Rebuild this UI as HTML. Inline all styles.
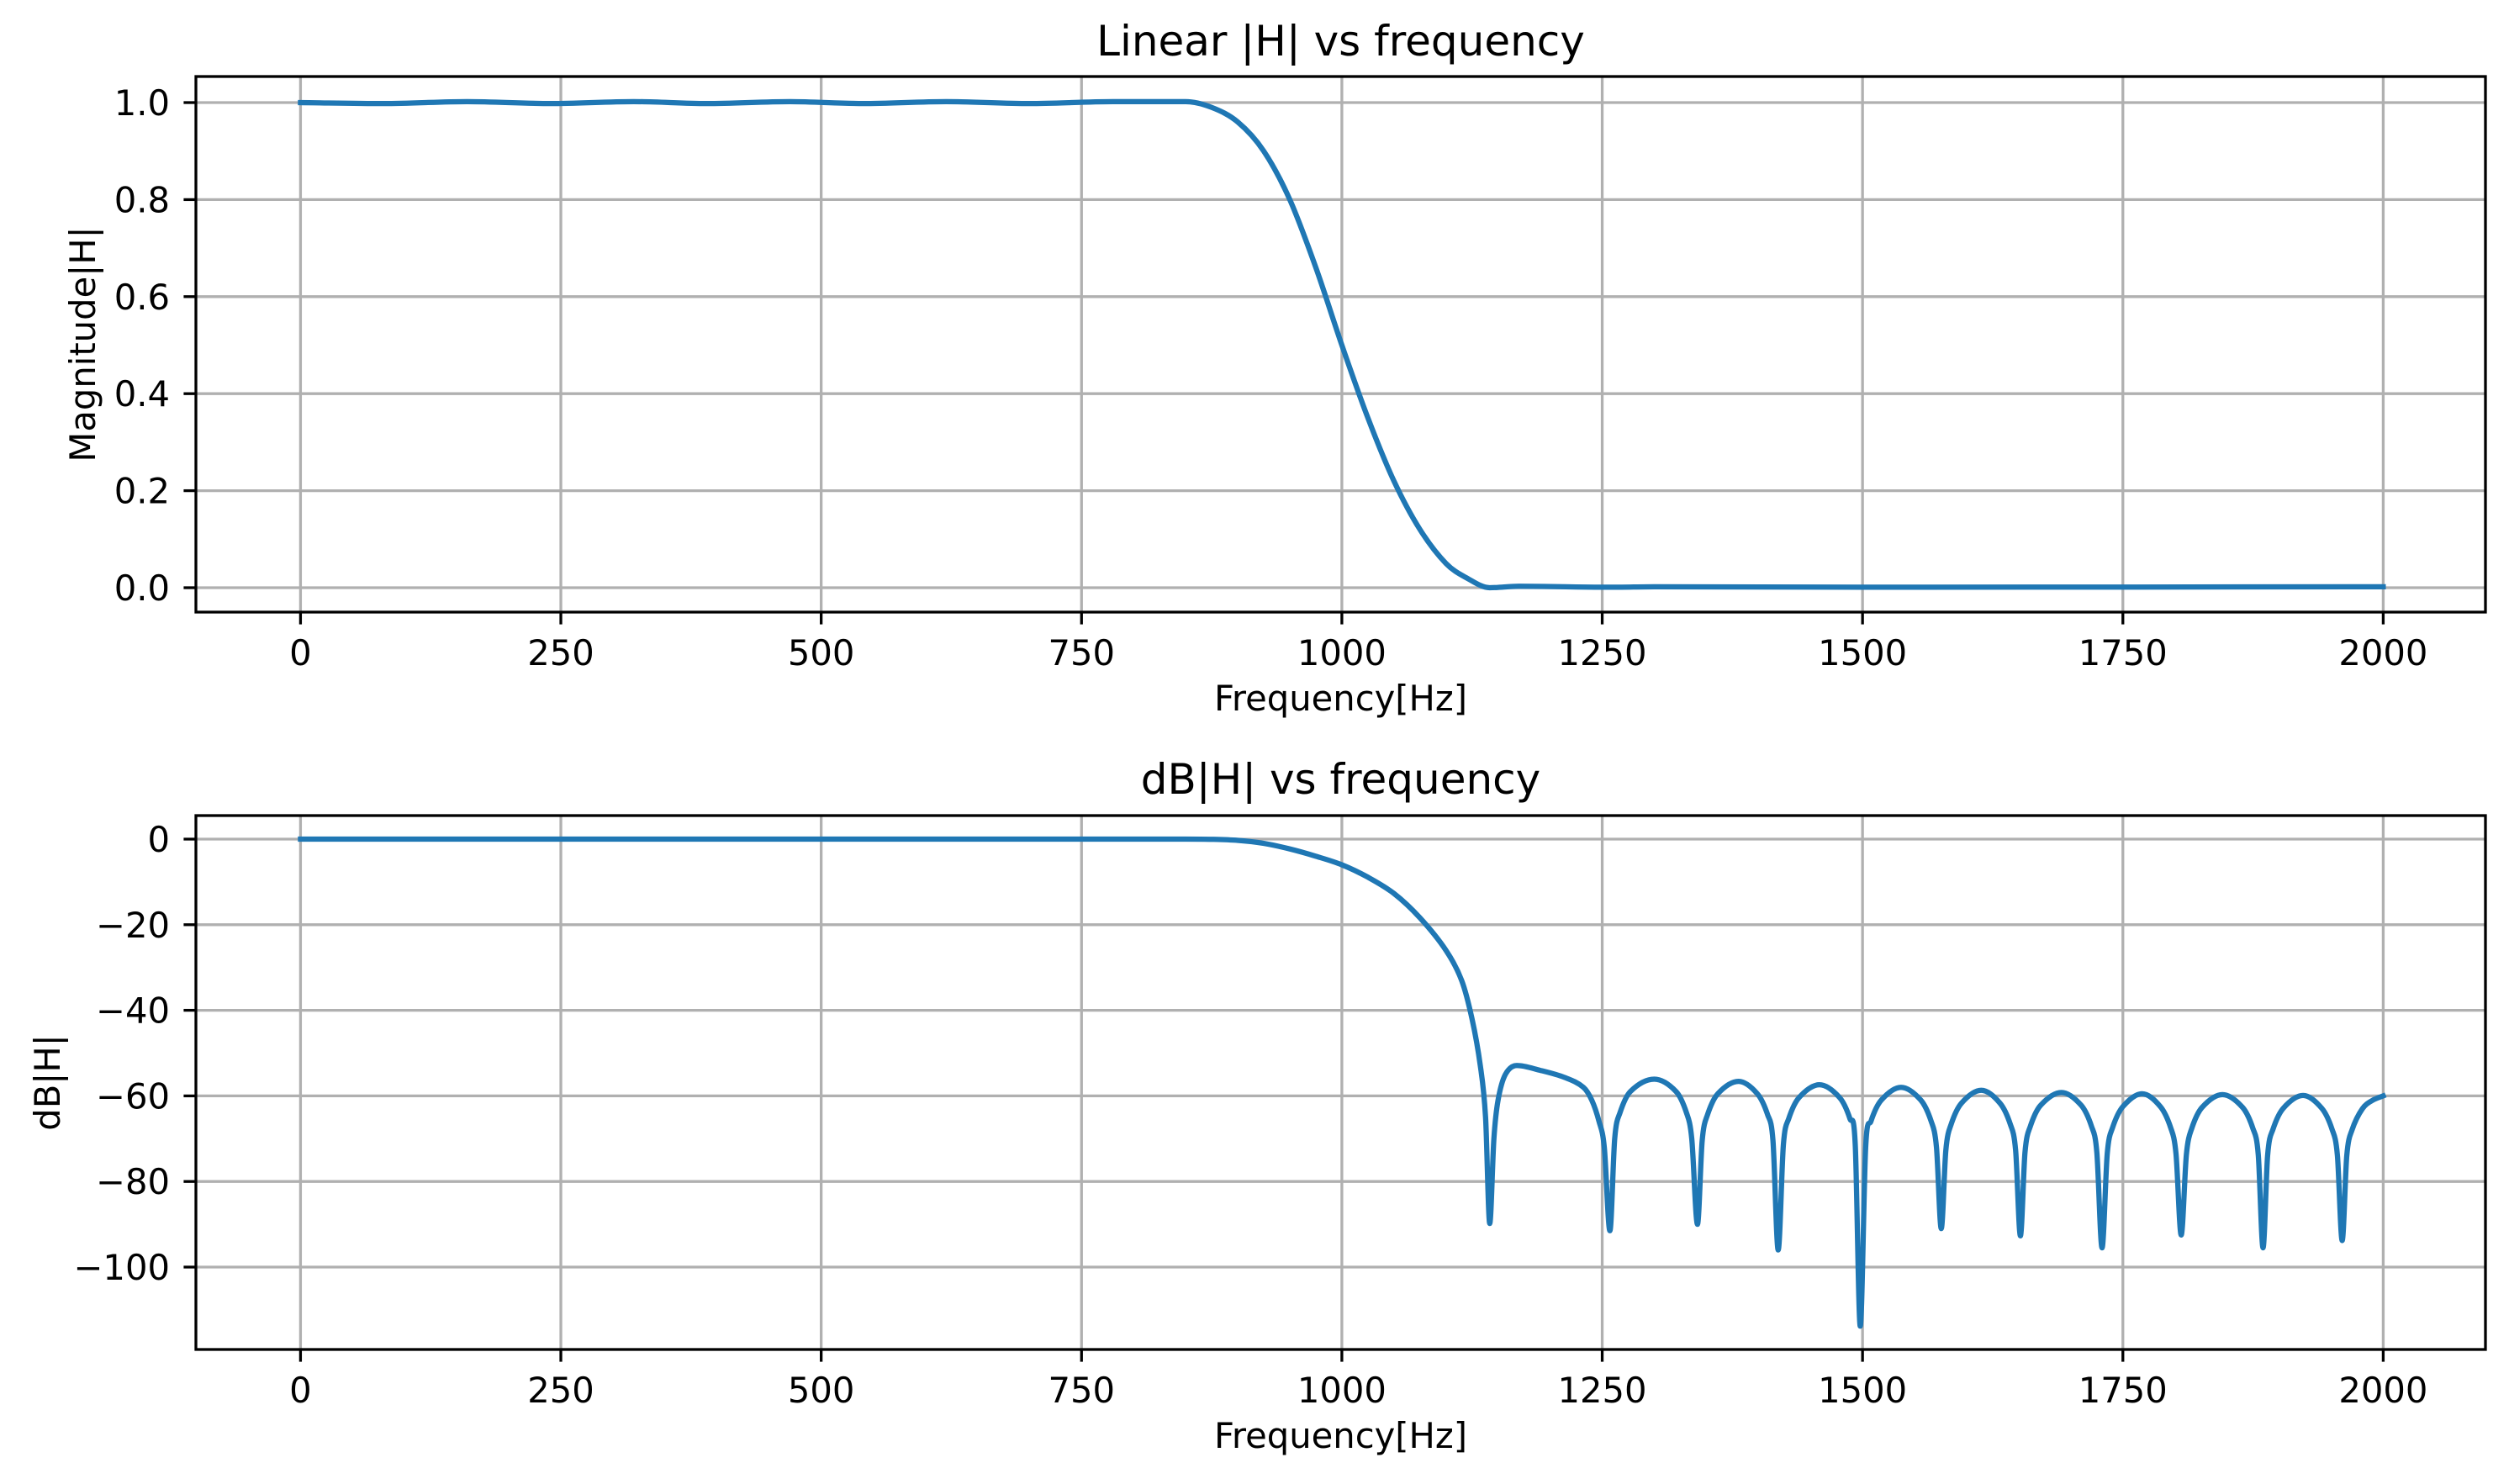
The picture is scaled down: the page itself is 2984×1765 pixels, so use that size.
<!DOCTYPE html>
<html><head><meta charset="utf-8"><style>
html,body{margin:0;padding:0;background:#fff}
svg{display:block}
text{font-family:"DejaVu Sans","Liberation Sans",sans-serif;fill:#000}
</style></head><body>
<svg id="fig" width="2984" height="1765" viewBox="0 0 2984 1765" xmlns="http://www.w3.org/2000/svg">
<rect width="2984" height="1765" fill="#fff"/>
<g id="top"></g>
<g id="bot"></g>
</svg>
<script>
// ---- data ----
const xTicks = [0,250,500,750,1000,1250,1500,1750,2000];
const linTicks = [0,0.2,0.4,0.6,0.8,1.0];
const linTickLabels = ["0.0","0.2","0.4","0.6","0.8","1.0"];
const dbTicks = [0,-20,-40,-60,-80,-100];
const dbTickLabels = ["0","\u221220","\u221240","\u221260","\u221280","\u2212100"];

const linFreq = [0,80,160,240,320,390,470,540,620,700,780,850,875,900,925,950,975,1000,1025,1050,1075,1100,1120,1142,1170,1260,1300,1500,2000];
const linMag  = [1.0,0.998,1.002,0.998,1.002,0.998,1.002,0.998,1.002,0.998,1.002,1.002,0.99,0.96,0.9,0.8,0.66,0.5,0.35,0.22,0.12,0.05,0.02,0.0,0.003,0.001,0.002,0.001,0.002];

const dbFreq = [0,850,875,900,925,950,975,1000,1025,1050,1075,1100,1115,1125,1133,1138,1142,
 1146,1150,1157,1168,1190,1214,1232,1240,1247,1252,1257.4,
 1262,1267,1277,1300,1321,1331,1336,1341.5,
 1346,1351,1361,1381,1399,1409,1414,1419,
 1424,1429,1439,1458.5,1478,1488,1493,1497.8,
 1503,1508,1518,1537,1556,1566,1571,1575.6,
 1580,1585,1595,1614,1632,1642,1647,1651.6,
 1656,1661,1671,1691,1710,1720,1725,1730,
 1735,1740,1750,1768.5,1786,1796,1801,1806,
 1811,1816,1826,1845.6,1865,1875,1880,1884.6,
 1889,1894,1904,1923,1941,1951,1956,1960.6,
 1965,1970,1980,1990,2000];
const dbMag = [0,0,-0.05,-0.3,-1.0,-2.3,-4.0,-6.0,-8.9,-12.7,-18.4,-26,-33,-42,-53,-65,-89.8,
 -70,-61,-55,-52.9,-54,-55.7,-58,-61,-66,-72,-91.5,
 -70,-64,-59,-56.1,-59,-64,-70,-90,
 -70.5,-64.5,-59.5,-56.6,-59.5,-64.5,-70.5,-96,
 -71.4,-65.4,-60.4,-57.4,-60.4,-65.4,-71.4,-113.8,
 -72,-66,-61,-58,-61,-66,-72,-91,
 -72.7,-66.7,-61.7,-58.7,-61.7,-66.7,-72.7,-92.7,
 -73.2,-67.2,-62.2,-59.2,-62.2,-67.2,-73.2,-95.5,
 -73.5,-67.5,-62.5,-59.5,-62.5,-67.5,-73.5,-92.5,
 -73.7,-67.7,-62.7,-59.7,-62.7,-67.7,-73.7,-95.5,
 -73.9,-67.9,-62.9,-59.9,-62.9,-67.9,-73.9,-93.8,
 -74,-68,-63,-61,-60];

// ---- drawing ----
const NS = "http://www.w3.org/2000/svg";
function mk(parent, tag, attrs, txt){
  const e = document.createElementNS(NS, tag);
  for (const k in attrs) e.setAttribute(k, attrs[k]);
  if (txt !== undefined) e.textContent = txt;
  parent.appendChild(e);
  return e;
}
const L = 233, R = 2956;
const xs = f => 357.4 + f * 1.2385;

function smoothPath(X, Y){
  const n = X.length, m = [];
  for (let i=0;i<n;i++){
    const a = Math.max(0,i-1), b = Math.min(n-1,i+1);
    if (i>0 && i<n-1 && (Y[i]-Y[a])*(Y[b]-Y[i]) <= 0) m.push(0);
    else m.push((Y[b]-Y[a])/(X[b]-X[a]));
  }
  let d = "M"+X[0].toFixed(2)+","+Y[0].toFixed(2);
  for (let i=0;i<n-1;i++){
    const dx = X[i+1]-X[i];
    d += " C"+(X[i]+dx/3).toFixed(2)+","+(Y[i]+m[i]*dx/3).toFixed(2)+" "+(X[i+1]-dx/3).toFixed(2)+","+(Y[i+1]-m[i+1]*dx/3).toFixed(2)+" "+X[i+1].toFixed(2)+","+Y[i+1].toFixed(2);
  }
  return d;
}

function drawAxes(g, T, B, ys, yt, ytl, title, titleY, ylabel, ylabelX, xlabY, tickLabY, freq, vals){
  xTicks.forEach(t=>{
    const l = mk(g,"line",{x1:xs(t),x2:xs(t),y1:T,y2:B,stroke:"#b0b0b0","stroke-width":3.3});
    
    
  });
  yt.forEach(t=>{
    const l = mk(g,"line",{x1:L,x2:R,y1:ys(t),y2:ys(t),stroke:"#b0b0b0","stroke-width":3.3});
    
    
  });
  const cp = "c"+Math.round(T);
  const clip = mk(g,"clipPath",{id:cp});
  mk(clip,"rect",{x:L,y:T,width:R-L,height:B-T});
  const p = mk(g,"path",{d:smoothPath(freq.map(xs), vals.map(ys)),fill:"none",stroke:"#1f77b4","stroke-width":6.25,"stroke-linejoin":"round","stroke-linecap":"square","clip-path":"url(#"+cp+")"});
  
  
  const sp = mk(g,"rect",{x:L,y:T,width:R-L,height:B-T,fill:"none",stroke:"#000","stroke-width":3.3});
  
  
  xTicks.forEach(t=>{
    const tk = mk(g,"line",{x1:xs(t),x2:xs(t),y1:B,y2:B+14.6,stroke:"#000","stroke-width":3.3});
    
    
    const tl = mk(g,"text",{x:xs(t),y:tickLabY,"font-size":41.7,"text-anchor":"middle"},String(t));
    
    
  });
  yt.forEach((t,i)=>{
    const tk = mk(g,"line",{x1:L-14.6,x2:L,y1:ys(t),y2:ys(t),stroke:"#000","stroke-width":3.3});
    
    
    const tl = mk(g,"text",{x:202,y:ys(t)+15,"font-size":41.7,"text-anchor":"end"},ytl[i]);
    
    
  });
  const ti = mk(g,"text",{x:(L+R)/2,y:titleY,"font-size":50,"text-anchor":"middle"},title);
  
  
  const xl = mk(g,"text",{x:(L+R)/2,y:xlabY,"font-size":41.7,"text-anchor":"middle"},"Frequency[Hz]");
  
  
  const cy = (T+B)/2;
  const yl = mk(g,"text",{x:ylabelX,y:cy,"font-size":41.7,"text-anchor":"middle",transform:"rotate(-90 "+ylabelX+" "+cy+")"},ylabel);
  
  
}

drawAxes(document.getElementById('top'), 91, 728, v=>699-577*v, linTicks, linTickLabels,
  "Linear |H| vs frequency", 66, "Magnitude|H|", 113, 845, 791, linFreq, linMag);
drawAxes(document.getElementById('bot'), 970, 1605, d=>998-5.09*d, dbTicks, dbTickLabels,
  "dB|H| vs frequency", 944, "dB|H|", 71, 1722, 1668, dbFreq, dbMag);
</script>
</body></html>
